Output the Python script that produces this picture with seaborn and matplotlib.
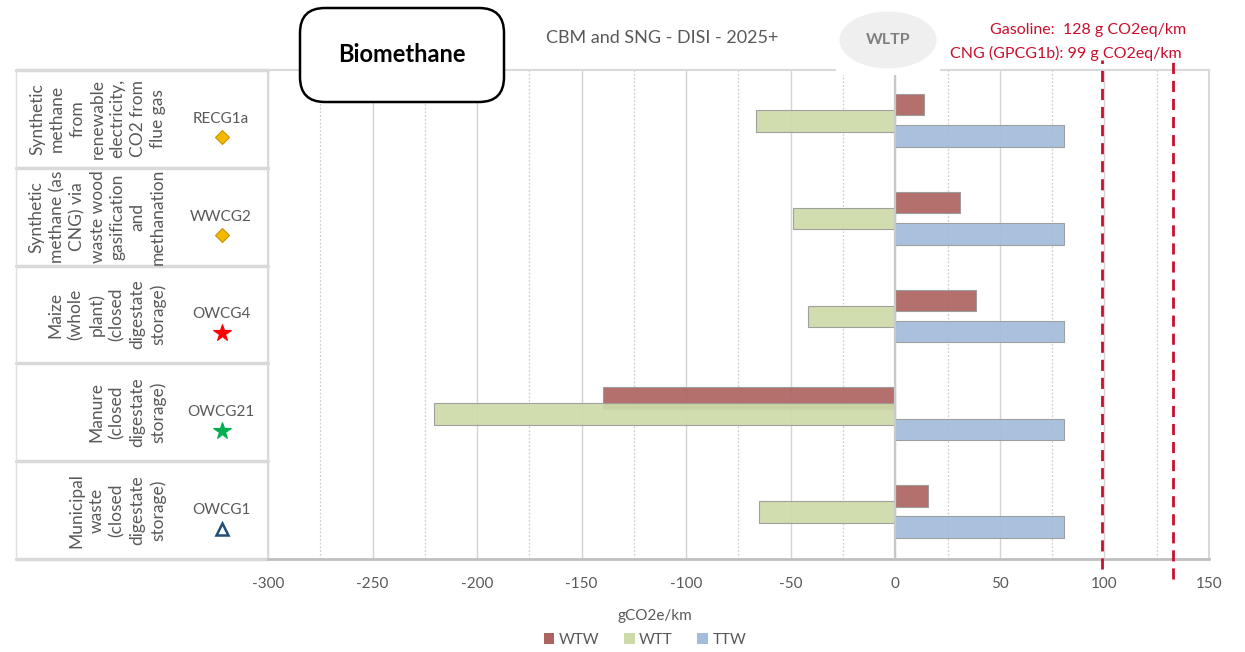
import matplotlib
matplotlib.use("Agg")
import matplotlib.pyplot as plt
import matplotlib.transforms as mtransforms
from matplotlib.patches import FancyBboxPatch, Ellipse, Rectangle, Patch
from matplotlib.lines import Line2D
import numpy as np
import pandas as pd
import seaborn as sns

# --- data ---
codes = ["RECG1a", "WWCG2", "OWCG4", "OWCG21", "OWCG1"]
descriptions = [
    "Synthetic\nmethane\nfrom\nrenewable\nelectricity,\nCO2 from\nflue gas",
    "Synthetic\nmethane (as\nCNG) via\nwaste wood\ngasification\nand\nmethanation",
    "Maize\n(whole\nplant)\n(closed\ndigestate\nstorage)",
    "Manure\n(closed\ndigestate\nstorage)",
    "Municipal\nwaste\n(closed\ndigestate\nstorage)",
]
wtw = [13.5, 31.0, 38.5, -140.0, 15.5]
wtt = [-66.5, -49.0, -42.0, -220.5, -65.0]
ttw = [80.5, 80.5, 80.5, 80.5, 80.5]
series_names = ["WTW", "WTT", "TTW"]
series_colors = ["#ad6461", "#cddba8", "#a3bcdc"]
cng_ref = 99
gasoline_ref = 133
x_ticks = [-300, -250, -200, -150, -100, -50, 0, 50, 100, 150]

W, H = 1245, 652
sns.set_theme(style="white")
plt.rcParams["font.family"] = ["Lato", "DejaVu Sans"]
grey_txt = "#595959"
red = "#c8102e"

fig = plt.figure(figsize=(W / 100, H / 100), dpi=100)
ax = fig.add_axes([268 / W, 1 - 559 / H, (1209 - 268) / W, (559 - 70) / H])

pos = np.arange(len(codes))
offsets = [-0.165, 0.0, 0.155]
bar_h = 0.22
for vals, name, col, off in zip([wtw, wtt, ttw], series_names, series_colors, offsets):
    df = pd.DataFrame({"value": vals, "ypos": pos + 0.02 + off})
    sns.barplot(data=df, x="value", y="ypos", orient="h", native_scale=True,
                width=bar_h, color=col, saturation=1, errorbar=None,
                edgecolor="#9a9a9a", linewidth=0.8, alpha=0.92, ax=ax, zorder=2)

ax.set_xlim(-300, 150)
ax.set_ylim(len(codes) - 0.5, -0.5)
ax.set_xticks(x_ticks)
ax.set_xticklabels([str(t) for t in x_ticks], color=grey_txt, fontsize=11)
ax.set_yticks([])
ax.set_xlabel("")
ax.set_ylabel("")
ax.tick_params(axis="x", length=0, pad=13)

# gridlines: solid at 50s, dotted at 25s
for t in range(-300, 151, 25):
    if t % 50 == 0:
        ax.axvline(t, color="#d4d4d4", lw=1.0, zorder=1)
    else:
        ax.axvline(t, color="#cfcfcf", lw=0.9, ls=(0, (1.5, 1.5)), zorder=1)
ax.axvline(0, color="#c8c8c8", lw=1.6, zorder=3)

for s in ["top", "right", "left"]:
    ax.spines[s].set_color("#d9d9d9")
    ax.spines[s].set_linewidth(1.5)
ax.spines["bottom"].set_color("#bfbfbf")
ax.spines["bottom"].set_linewidth(2)

# reference lines
vtrans = mtransforms.blended_transform_factory(ax.transData, ax.transAxes)
ax.plot([cng_ref, cng_ref], [-0.02, 1.02], transform=vtrans, color=red, lw=2,
        ls=(0, (4, 2.5)), clip_on=False, zorder=5)
ax.plot([gasoline_ref, gasoline_ref], [-0.04, 1.03], transform=vtrans, color=red, lw=2,
        ls=(0, (4, 2.5)), clip_on=False, zorder=5)

# left table
ltrans = mtransforms.blended_transform_factory(fig.transFigure, ax.transData)
for i in range(len(codes) + 1):
    ax.add_line(Line2D([16 / W, 268 / W], [i - 0.5, i - 0.5], transform=ltrans,
                       color="#d9d9d9", lw=2.5, clip_on=False))
ax.add_line(Line2D([16 / W, 16 / W], [-0.5, len(codes) - 0.5], transform=ltrans,
                   color="#e0e0e0", lw=1, clip_on=False))

markers = [("D", "#f5b800", "#c99600", True), ("D", "#f5b800", "#c99600", True),
           ("*", "#ff0000", "#ff0000", True), ("*", "#00b050", "#00b050", True),
           ("^", "none", "#1f4e79", False)]
msizes = [7.5, 7.5, 13, 13, 9]
for i, (code, desc) in enumerate(zip(codes, descriptions)):
    ax.text(166 / W, i, desc, transform=ltrans, rotation=90, ha="right", va="center",
            multialignment="center", fontsize=12.5, color=grey_txt, linespacing=1.32)
    ax.text(221 / W, i, code, transform=ltrans, ha="center", va="center",
            fontsize=11, color=grey_txt)
    m, fc, ec, filled = markers[i]
    ax.plot([222 / W], [i + 0.19], transform=ltrans, marker=m, ms=msizes[i],
            mfc=fc, mec=ec, mew=1.8 if not filled else 0.8, clip_on=False, ls="none")

# header annotations
fig.text(662 / W, 1 - 38 / H, "CBM and SNG - DISI - 2025+", ha="center", va="center",
         fontsize=13, color=grey_txt)
fig.patches.append(Rectangle((836 / W, 1 - 75 / H), 104 / W, 10 / H,
                             transform=fig.transFigure, facecolor="white",
                             edgecolor="none", zorder=10))
fig.patches.append(Ellipse((888 / W, 1 - 40 / H), 97 / W, 57 / H,
                           transform=fig.transFigure, facecolor="#efefef",
                           edgecolor="none", zorder=11))
fig.text(888 / W, 1 - 40 / H, "WLTP", ha="center", va="center", fontsize=11.5,
         fontweight="bold", color="#808080", zorder=12)
fig.text(1186 / W, 1 - 30 / H, "Gasoline:  128 g CO2eq/km", ha="right", va="center",
         fontsize=11.5, color=red)
fig.text(1182 / W, 1 - 53 / H, "CNG (GPCG1b): 99 g CO2eq/km", ha="right", va="center",
         fontsize=11.5, color=red)

fig.patches.append(FancyBboxPatch((300 / W, 1 - 102 / H), 204 / W, 94 / H,
                                  boxstyle="round,pad=0,rounding_size=0.02",
                                  transform=fig.transFigure, facecolor="white",
                                  edgecolor="black", lw=1.8, zorder=10,
                                  mutation_aspect=W / H))
fig.text(402 / W, 1 - 55 / H, "Biomethane", ha="center", va="center", fontsize=17,
         fontweight="bold", color="black", zorder=12)

# axis label and legend
fig.text(655 / W, 1 - 616 / H, "gCO2e/km", ha="center", va="center", fontsize=11,
         color=grey_txt)
handles = [Patch(facecolor=c, edgecolor="none", label=n)
           for n, c in zip(series_names, series_colors)]
leg = fig.legend(handles=handles, loc="center", bbox_to_anchor=(645 / W, 1 - 640 / H),
                 ncol=3, frameon=False, fontsize=11, handlelength=0.7, handleheight=0.7,
                 handletextpad=0.3, columnspacing=1.6)
for t in leg.get_texts():
    t.set_color(grey_txt)

fig.savefig("out.png", dpi=100)
